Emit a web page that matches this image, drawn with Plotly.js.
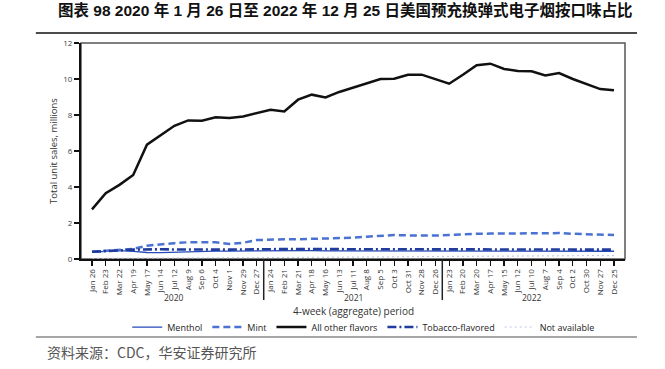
<!DOCTYPE html>
<html>
<head>
<meta charset="utf-8">
<script src="https://cdn.plot.ly/plotly-3.0.1.min.js"></script>
<style>
html,body{margin:0;padding:0;background:#fff;}
#chart{width:665px;height:369px;}
</style>
</head>
<body>
<div id="chart"></div>
<script>
const periods = [
  "Jan 26","Feb 23","Mar 22","Apr 19","May 17","Jun 14","Jul 12","Aug 9","Sep 6","Oct 4","Nov 1","Nov 29","Dec 27",
  "Jan 24","Feb 21","Mar 21","Apr 18","May 16","Jun 13","Jul 11","Aug 8","Sep 5","Oct 3","Oct 31","Nov 28","Dec 26",
  "Jan 23","Feb 20","Mar 20","Apr 17","May 15","Jun 12","Jul 10","Aug 7","Sep 4","Oct 2","Oct 30","Nov 27","Dec 25"
];
const years = ["2020","2021","2022"];
const menthol = [0.38,0.42,0.47,0.42,0.36,0.35,0.38,0.42,0.43,0.44,0.44,0.45,0.46,
                 0.47,0.47,0.46,0.46,0.45,0.45,0.45,0.45,0.45,0.45,0.44,0.44,0.44,
                 0.44,0.44,0.44,0.44,0.44,0.44,0.44,0.44,0.44,0.44,0.44,0.43,0.43];
const mint = [0.40,0.45,0.50,0.56,0.74,0.82,0.88,0.93,0.93,0.93,0.84,0.90,1.05,
              1.09,1.10,1.10,1.12,1.14,1.12,1.18,1.24,1.30,1.33,1.31,1.30,1.30,
              1.33,1.38,1.40,1.41,1.42,1.44,1.46,1.46,1.44,1.40,1.38,1.36,1.33];
const allOther = [2.76,3.65,4.12,4.67,6.35,6.90,7.40,7.70,7.68,7.87,7.83,7.92,8.10,
                  8.29,8.20,8.85,9.13,8.98,9.28,9.52,9.74,10.00,10.02,10.24,10.24,10.00,
                  9.74,10.24,10.76,10.85,10.56,10.45,10.43,10.20,10.33,10.00,9.74,9.44,9.37];
const tobacco = [0.40,0.42,0.48,0.52,0.55,0.54,0.53,0.52,0.52,0.52,0.52,0.53,0.55,
                 0.56,0.55,0.55,0.55,0.54,0.54,0.54,0.54,0.54,0.54,0.54,0.54,0.54,
                 0.54,0.54,0.54,0.54,0.54,0.54,0.55,0.55,0.55,0.54,0.54,0.53,0.52];
const notAvail = [0.04,0.04,0.05,0.05,0.05,0.05,0.06,0.06,0.06,0.06,0.07,0.07,0.08,
                  0.08,0.08,0.09,0.09,0.10,0.10,0.11,0.11,0.12,0.12,0.13,0.13,0.14,
                  0.14,0.15,0.15,0.16,0.16,0.17,0.17,0.18,0.18,0.18,0.19,0.19,0.19];
const yTicks = [0,2,4,6,8,10,12];

const traces = [
  {name:"Menthol", x:periods, y:menthol, type:"scatter", mode:"lines",
   line:{color:"#2449b8", width:1.3}},
  {name:"Mint", x:periods, y:mint, type:"scatter", mode:"lines",
   line:{color:"#4a72d2", width:2.5, dash:"7px,4px"}},
  {name:"All other flavors", x:periods, y:allOther, type:"scatter", mode:"lines",
   line:{color:"#111111", width:2.5}},
  {name:"Tobacco-flavored", x:periods, y:tobacco, type:"scatter", mode:"lines",
   line:{color:"#1f3c9e", width:2.6, dash:"9px,3px,2px,3px"}},
  {name:"Not available", x:periods, y:notAvail, type:"scatter", mode:"lines",
   line:{color:"#b9c6e0", width:1, dash:"2px,3px"}}
];

const layout = {
  width:665, height:369,
  margin:{l:81, r:40, t:43, b:110},
  paper_bgcolor:"#fff", plot_bgcolor:"#fff",
  font:{family:"'Open Sans', 'DejaVu Sans', sans-serif", color:"#333", size:8},
  showlegend:true,
  legend:{orientation:"h", x:0.085, xanchor:"left", y:-0.315, yanchor:"middle",
          font:{size:9, color:"#222"}, itemwidth:30, bgcolor:"rgba(0,0,0,0)"},
  xaxis:{type:"category", range:[-0.8, 38.8], showgrid:false, zeroline:false,
         showline:true, linecolor:"#111", linewidth:2,
         ticks:"outside", ticklen:5, tickwidth:1.3, tickcolor:"#111",
         tickangle:-90, tickfont:{size:8, color:"#333"}, fixedrange:true},
  yaxis:{range:[0,12], tickvals:yTicks, showgrid:false, zeroline:false,
         showline:true, linecolor:"#111", linewidth:2,
         ticks:"outside", ticklen:5, tickwidth:1.3, tickcolor:"#111",
         tickfont:{size:8, color:"#444"},
         title:{text:"Total unit sales, millions", font:{size:9.5, color:"#333"}, standoff:4}},
  shapes:[
    {type:"rect", xref:"paper", yref:"paper", x0:0, x1:1, y0:0, y1:1,
     line:{color:"#555", width:1.5}, layer:"below"},
    {type:"line", xref:"x", yref:"paper", x0:12.5, x1:12.5, y0:0, y1:-0.19,
     line:{color:"#222", width:1.5}},
    {type:"line", xref:"x", yref:"paper", x0:25.5, x1:25.5, y0:0, y1:-0.19,
     line:{color:"#222", width:1.5}},
    {type:"line", xref:"paper", yref:"paper", x0:-0.083, x1:1.022, y0:1.046, y1:1.046,
     line:{color:"#111", width:1.5}},
    {type:"line", xref:"paper", yref:"paper", x0:-0.083, x1:1.022, y0:-0.361, y1:-0.361,
     line:{color:"#888", width:1.5}}
  ],
  annotations:[
    {text:"<b>图表 98 2020 年 1 月 26 日至 2022 年 12 月 25 日美国预充换弹式电子烟按口味占比</b>",
     xref:"paper", yref:"paper", x:0.486, y:1.155, xanchor:"center", yanchor:"middle",
     showarrow:false, font:{family:"'Liberation Sans', 'Noto Sans CJK SC', sans-serif", size:15.5, color:"#111"}},
    {text:years[0], xref:"x", yref:"paper", x:6, y:-0.176, yanchor:"middle", showarrow:false,
     font:{size:8.5, color:"#333"}},
    {text:years[1], xref:"x", yref:"paper", x:19, y:-0.176, yanchor:"middle", showarrow:false,
     font:{size:8.5, color:"#333"}},
    {text:years[2], xref:"x", yref:"paper", x:32, y:-0.176, yanchor:"middle", showarrow:false,
     font:{size:8.5, color:"#333"}},
    {text:"4-week (aggregate) period", xref:"paper", yref:"paper", x:0.5, y:-0.241,
     xanchor:"center", yanchor:"middle", showarrow:false, font:{size:10, color:"#333"}},
    {text:"资料来源：CDC，华安证券研究所", xref:"paper", yref:"paper",
     x:-0.067, xanchor:"left", y:-0.43, yanchor:"middle", showarrow:false,
     font:{family:"'Noto Sans CJK SC', sans-serif", size:14, color:"#555"}}
  ]
};

Plotly.newPlot("chart", traces, layout, {displayModeBar:false, staticPlot:true});
</script>
</body>
</html>
